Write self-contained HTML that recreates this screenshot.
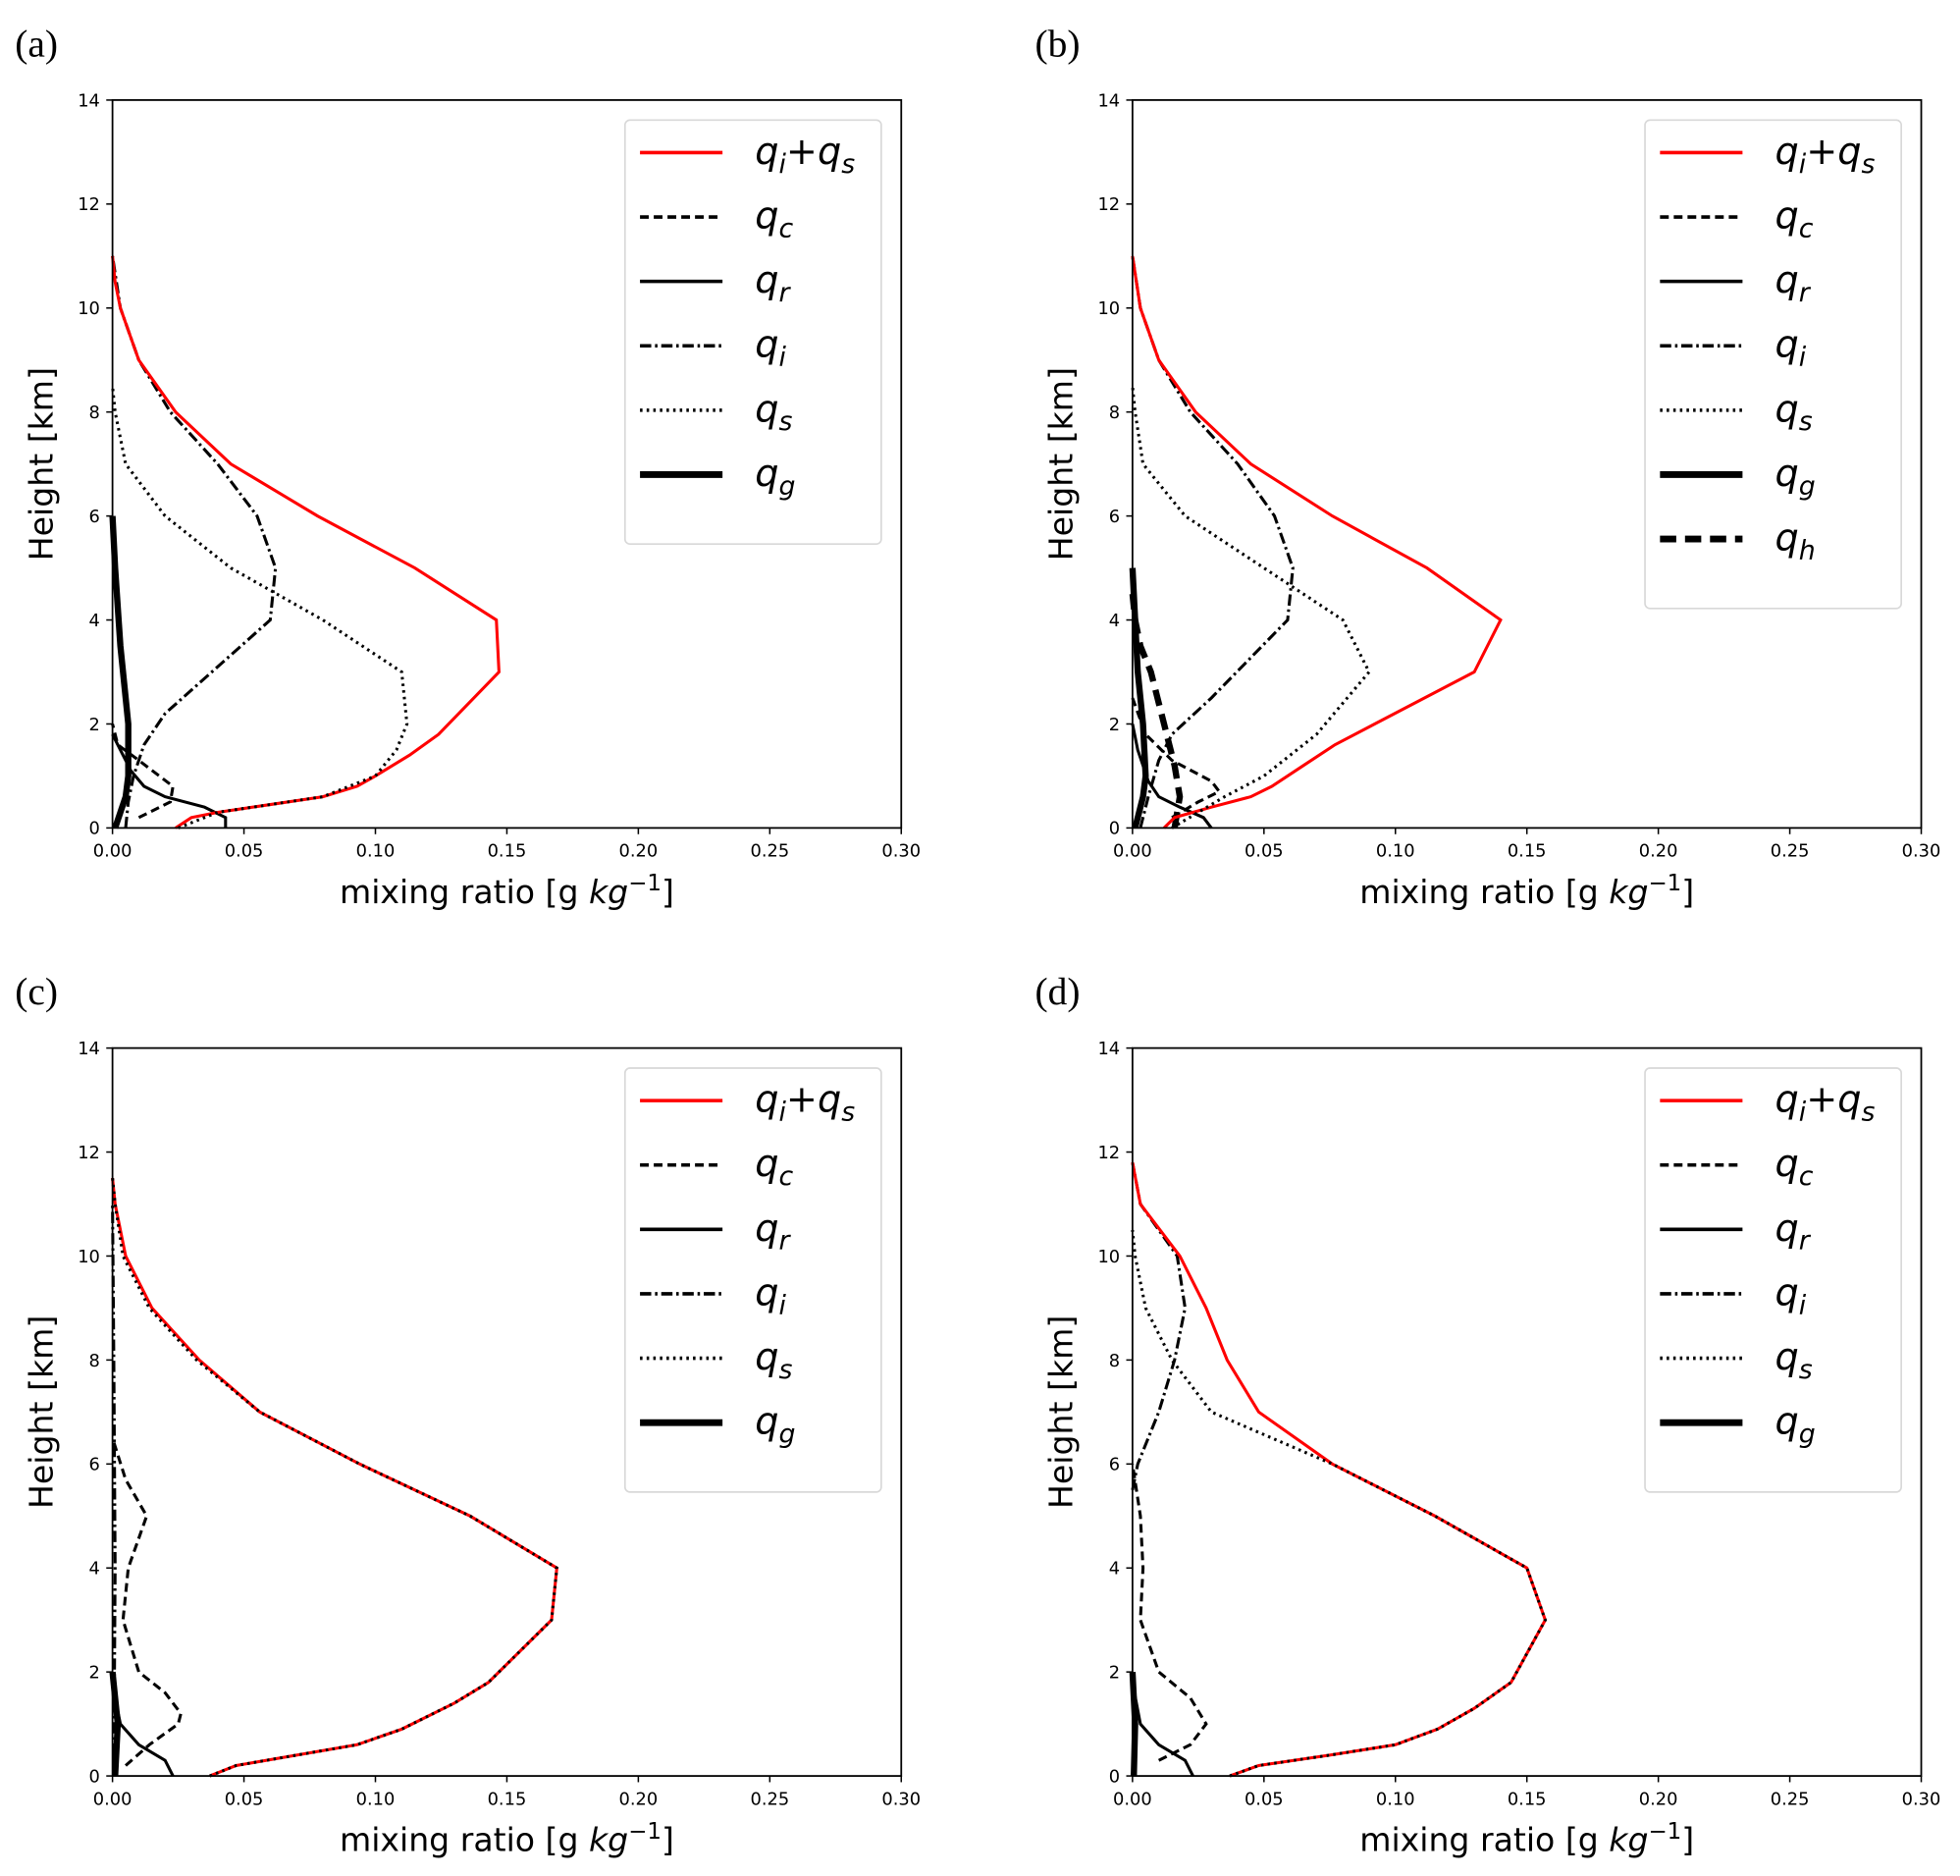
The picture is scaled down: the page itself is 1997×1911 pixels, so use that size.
<!DOCTYPE html>
<html><head><meta charset="utf-8"><style>
html,body{margin:0;padding:0;background:#fff;}
svg{display:block;}
text{font-family:"DejaVu Sans","Liberation Sans",sans-serif;}
text.serif{font-family:"Liberation Serif",serif;}
</style></head><body>
<svg id="fig" width="1997" height="1911" viewBox="0 0 1568 1500" preserveAspectRatio="none" xmlns="http://www.w3.org/2000/svg"></svg>
<script>
// ---- data: [mixing ratio g/kg, height km] ----
const xTicks = [0.00,0.05,0.10,0.15,0.20,0.25,0.30];
const xTickLabels = ["0.00","0.05","0.10","0.15","0.20","0.25","0.30"];
const yTicks = [0,2,4,6,8,10,12,14];
const panelLabels = ["(a)","(b)","(c)","(d)"];

const a_sum = [[0.024,0],[0.03,0.2],[0.04,0.3],[0.06,0.45],[0.08,0.6],[0.093,0.8],[0.10,1.0],[0.113,1.4],[0.124,1.8],[0.147,3],[0.146,4],[0.115,5],[0.078,6],[0.045,7],[0.024,8],[0.01,9],[0.003,10],[0.001,10.5],[0,11]];
const a_qc = [[0.01,0.2],[0.022,0.5],[0.023,0.8],[0.01,1.3],[0.002,1.6],[0,2]];
const a_qr = [[0.043,0],[0.043,0.2],[0.035,0.4],[0.02,0.6],[0.012,0.8],[0.007,1.1],[0.003,1.5],[0,1.8]];
const a_qi = [[0.005,0],[0.006,0.5],[0.008,1],[0.012,1.6],[0.02,2.2],[0.06,4],[0.062,5],[0.055,6],[0.04,7],[0.022,8],[0.01,9],[0.003,10],[0,11]];
const a_qs = [[0.025,0],[0.04,0.3],[0.06,0.45],[0.08,0.6],[0.10,1.0],[0.108,1.5],[0.112,2],[0.11,3],[0.08,4],[0.045,5],[0.02,6],[0.005,7],[0.001,8],[0,8.5]];
const a_qg = [[0.001,0],[0.003,0.3],[0.005,0.6],[0.006,1],[0.006,2],[0.003,3.5],[0.001,5],[0,6]];

const b_sum = [[0.012,0],[0.016,0.2],[0.03,0.4],[0.045,0.6],[0.053,0.8],[0.065,1.2],[0.077,1.6],[0.13,3],[0.14,4],[0.112,5],[0.076,6],[0.045,7],[0.024,8],[0.01,9],[0.003,10],[0,11]];
const b_qc = [[0.015,0.2],[0.025,0.5],[0.033,0.7],[0.03,0.9],[0.015,1.3],[0.005,1.8],[0,2.5]];
const b_qr = [[0.03,0],[0.027,0.2],[0.018,0.4],[0.01,0.6],[0.006,0.9],[0.002,1.5],[0,2]];
const b_qi = [[0.003,0],[0.006,0.6],[0.01,1.3],[0.015,1.8],[0.03,2.5],[0.059,4],[0.061,5],[0.054,6],[0.04,7],[0.022,8],[0.01,9],[0.003,10],[0,11]];
const b_qs = [[0.015,0],[0.025,0.3],[0.035,0.6],[0.05,1],[0.07,1.8],[0.09,3],[0.08,4],[0.05,5],[0.02,6],[0.004,7],[0.001,8],[0,8.5]];
const b_qg = [[0.001,0],[0.004,0.6],[0.005,1],[0.004,2],[0.002,3],[0.001,4],[0,5]];
const b_qh = [[0.016,0],[0.018,0.6],[0.016,1.2],[0.012,2],[0.007,3],[0.003,3.5],[0.001,4],[0,4.5]];

const c_sum = [[0.037,0],[0.047,0.2],[0.07,0.4],[0.093,0.6],[0.11,0.9],[0.13,1.4],[0.143,1.8],[0.167,3],[0.169,4],[0.136,5],[0.094,6],[0.056,7],[0.033,8],[0.015,9],[0.005,10],[0.001,11],[0,11.5]];
const c_qc = [[0.005,0.2],[0.014,0.6],[0.025,1],[0.026,1.2],[0.02,1.6],[0.01,2],[0.004,3],[0.006,4],[0.013,5],[0.005,5.7],[0,6.5]];
const c_qr = [[0.023,0],[0.02,0.3],[0.01,0.6],[0.003,1],[0.001,1.5],[0,2]];
const c_qi = [[0.0005,0],[0.001,4],[0.0005,8],[0,11]];
const c_qs = [[0.037,0],[0.047,0.2],[0.07,0.4],[0.093,0.6],[0.11,0.9],[0.13,1.4],[0.143,1.8],[0.167,3],[0.169,4],[0.136,5],[0.094,6],[0.056,7],[0.032,8],[0.014,9],[0.004,10],[0.001,11],[0,11.5]];
const c_qg = [[0.001,0],[0.002,1],[0,2]];

const d_sum = [[0.037,0],[0.048,0.2],[0.075,0.4],[0.1,0.6],[0.116,0.9],[0.13,1.3],[0.144,1.8],[0.157,3],[0.15,4],[0.115,5],[0.076,6],[0.048,7],[0.036,8],[0.028,9],[0.018,10],[0.003,11],[0,11.8]];
const d_qc = [[0.01,0.3],[0.022,0.6],[0.028,1],[0.022,1.5],[0.01,2],[0.003,3],[0.004,4],[0.003,5],[0,6]];
const d_qr = [[0.023,0],[0.02,0.3],[0.01,0.6],[0.003,1],[0,1.8]];
const d_qi = [[0,5.5],[0.002,6],[0.01,7],[0.016,8],[0.02,9],[0.017,10],[0.003,11],[0,11.8]];
const d_qs = [[0.037,0],[0.048,0.2],[0.075,0.4],[0.1,0.6],[0.116,0.9],[0.13,1.3],[0.144,1.8],[0.157,3],[0.15,4],[0.115,5],[0.076,6],[0.03,7],[0.015,8],[0.005,9],[0.001,10],[0,10.5]];
const d_qg = [[0.0005,0],[0.001,1],[0,2]];

const NS = "http://www.w3.org/2000/svg";
const svg = document.getElementById('fig');
function mk(tag, attrs, parent){ const e=document.createElementNS(NS,tag); for(const k in attrs) e.setAttribute(k,attrs[k]); (parent||svg).appendChild(e); return e; }

const styles = {
  sum:{stroke:'#ff0000',w:2.4,dash:''},
  qc:{stroke:'#000',w:2.4,dash:'7,4'},
  qr:{stroke:'#000',w:2.4,dash:''},
  qi:{stroke:'#000',w:2.4,dash:'9,3,2,3'},
  qs:{stroke:'#000',w:2.4,dash:'2,3.3'},
  qg:{stroke:'#000',w:5,dash:''},
  qh:{stroke:'#000',w:5,dash:'13,7'}
};
const legendSubs = {sum:null,qc:'c',qr:'r',qi:'i',qs:'s',qg:'g',qh:'h'};

function drawPanel(idx, ox, oy, series, order){
  const L=ox, R=ox+631, T=oy, B=oy+582;
  const xs = v => L + v/0.30*(R-L);
  const ys = v => B - v/14*(B-T);
  const g = mk('g',{});
  
  
  const pl = mk('text',{x:ox-78,y:oy-35,'font-size':31,'class':'serif',fill:'#000'},g);
  pl.textContent = panelLabels[idx];
  
  
  xTicks.forEach((t,i)=>{
    mk('line',{x1:xs(t),x2:xs(t),y1:B,y2:B+5,stroke:'#000','stroke-width':1.2},g);
    const tx = mk('text',{x:xs(t),y:B+23,'font-size':14,'text-anchor':'middle',fill:'#000'},g);
    tx.textContent = xTickLabels[i];
    
    
  });
  yTicks.forEach(t=>{
    mk('line',{x1:L-5,x2:L,y1:ys(t),y2:ys(t),stroke:'#000','stroke-width':1.2},g);
    const ty = mk('text',{x:L-10,y:ys(t)+5,'font-size':14,'text-anchor':'end',fill:'#000'},g);
    ty.textContent = String(t);
    
    
  });
  const xl = mk('text',{x:(L+R)/2,y:B+60,'font-size':26,'text-anchor':'middle',fill:'#000'},g);
  xl.innerHTML = 'mixing ratio [g <tspan font-style="italic">kg</tspan><tspan font-size="18" dy="-10">−1</tspan><tspan dy="10">]</tspan>';
  
  
  const yl = mk('text',{x:0,y:0,'font-size':26,'text-anchor':'middle',fill:'#000',transform:`translate(${L-48},${(T+B)/2}) rotate(-90)`},g);
  yl.textContent = 'Height [km]';
  
  
  order.forEach(key=>{
    const pts = series[key]; const st = styles[key];
    const d = pts.map((p,i)=>(i?'L':'M')+xs(p[0]).toFixed(2)+','+ys(p[1]).toFixed(2)).join(' ');
    const path = mk('path',{d:d,fill:'none',stroke:st.stroke,'stroke-width':st.w,'stroke-dasharray':st.dash,'stroke-linejoin':'miter'},g);
    
    
  });
  mk('rect',{x:L,y:T,width:R-L,height:B-T,fill:'none',stroke:'#000','stroke-width':1.4},g);
  const keys = ['sum','qc','qr','qi','qs','qg'].concat(series.qh?['qh']:[]);
  const lx = ox+410, ly = oy+16;
  const lg = mk('g',{},g);
  
  
  mk('rect',{x:lx,y:ly,width:205,height:30+keys.length*51.5,rx:4,fill:'#fff',stroke:'#d8d8d8','stroke-width':1.3},lg);
  keys.forEach((k,i)=>{
    const y = ly+26+i*51.5;
    const st = styles[k];
    mk('line',{x1:lx+12,x2:lx+78,y1:y,y2:y,stroke:st.stroke,'stroke-width':st.w+0.4,'stroke-dasharray':st.dash},lg);
    const t = mk('text',{x:lx+104,y:y+9,'font-size':30,'font-style':'italic',fill:'#000'},lg);
    if(k==='sum') t.innerHTML = 'q<tspan font-size="21" dy="7">i</tspan><tspan font-style="normal" dy="-7">+</tspan>q<tspan font-size="21" dy="7">s</tspan>';
    else t.innerHTML = 'q<tspan font-size="21" dy="7">'+legendSubs[k]+'</tspan>';
    
    
  });
}
const ord = ['qg','qh','qc','qr','qi','sum','qs'];
drawPanel(0,90,80,{sum:a_sum,qc:a_qc,qr:a_qr,qi:a_qi,qs:a_qs,qg:a_qg},ord.filter(k=>k!=='qh'));
drawPanel(1,906,80,{sum:b_sum,qc:b_qc,qr:b_qr,qi:b_qi,qs:b_qs,qg:b_qg,qh:b_qh},ord);
drawPanel(2,90,838,{sum:c_sum,qc:c_qc,qr:c_qr,qi:c_qi,qs:c_qs,qg:c_qg},ord.filter(k=>k!=='qh'));
drawPanel(3,906,838,{sum:d_sum,qc:d_qc,qr:d_qr,qi:d_qi,qs:d_qs,qg:d_qg},ord.filter(k=>k!=='qh'));
</script>
</body></html>
